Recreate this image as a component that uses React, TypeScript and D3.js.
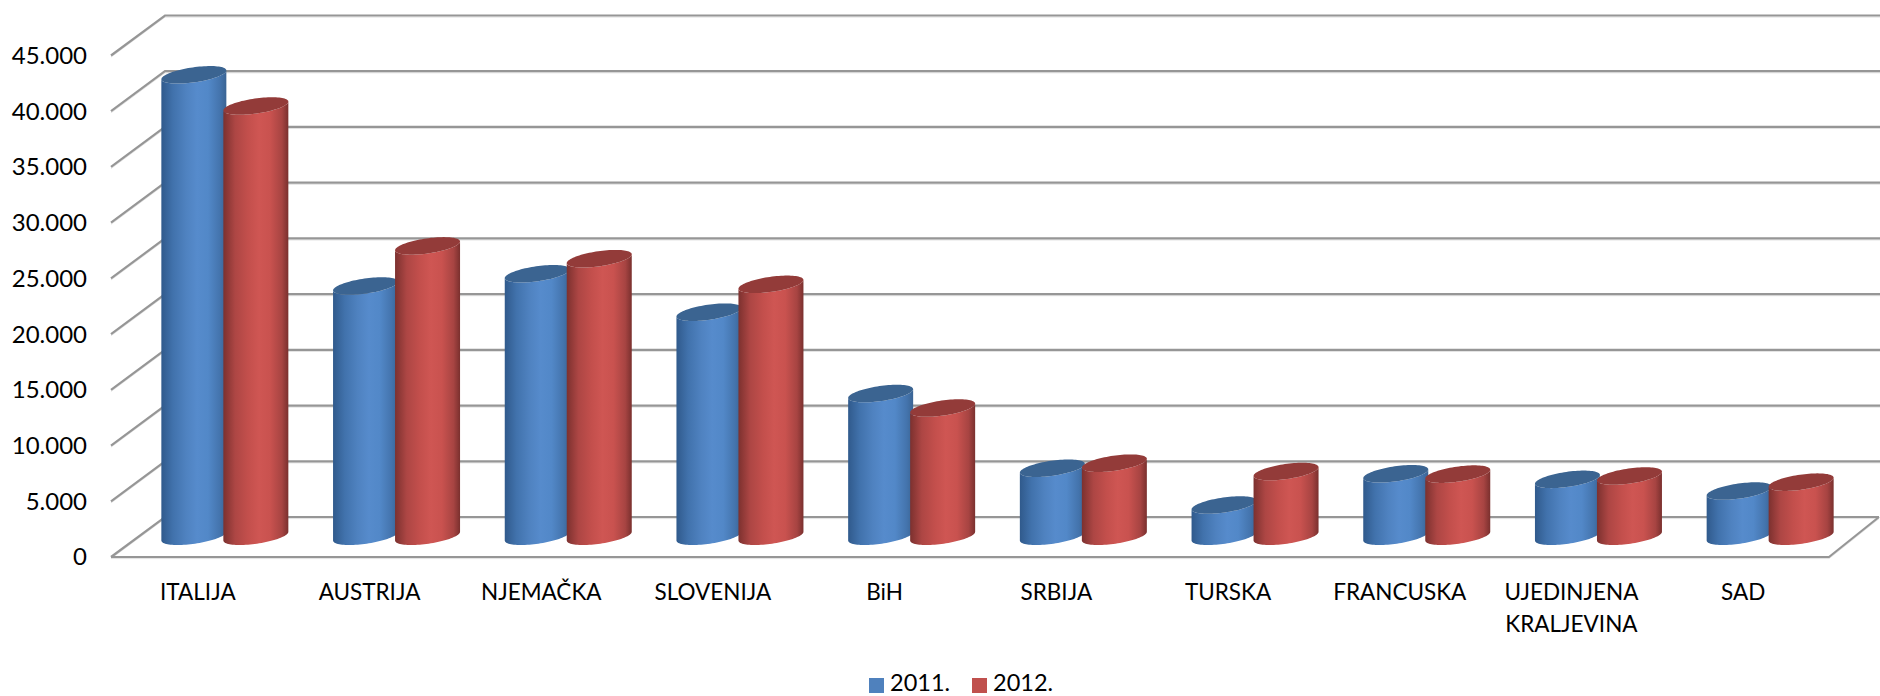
import React from "react";
import * as d3 from "d3";

const categories = ["ITALIJA","AUSTRIJA","NJEMAČKA","SLOVENIJA","BiH","SRBIJA","TURSKA","FRANCUSKA","UJEDINJENA\nKRALJEVINA","SAD"];
const series2011 = [41400,22450,23550,20100,12800,6100,2800,5600,5100,4050];
const series2012 = [38600,26050,24900,22600,11500,6550,5800,5570,5400,4850];
const ticks = [0,5000,10000,15000,20000,25000,30000,35000,40000,45000];
const tickLabels = ["0","5.000","10.000","15.000","20.000","25.000","30.000","35.000","40.000","45.000"];
const seriesNames = ["2011.","2012."];
const seriesKeys = ["a","b"];

const W = 1880, H = 696;
const FONT = "Lato, Carlito, sans-serif";
const LEFT = 111, RIGHT = 1829, FLOOR = 557, DX = 54, DY = 40;
const yFront = d3.scaleLinear().domain([0,45000]).range([FLOOR,55.5]);
const xFront = d3.scaleBand<string>().domain(categories).range([LEFT+1,LEFT+1718]);
const inner = d3.scaleBand<string>().domain(seriesKeys).range([0,124]);
const A = 32.5, B = 7.6, K = 4.4 / 32.5;

const ring = d3.range(0, 361, 4).map(d => d * Math.PI / 180);
const lineGen = d3.line<[number, number]>();
function ellipsePoint(cx:number, cy:number, t:number):[number,number]{
  return [cx + A*Math.cos(t), cy + B*Math.sin(t) - K*A*Math.cos(t)];
}
function cap(cx:number, top:number){
  return (lineGen(ring.map(t=>ellipsePoint(cx,top,t))) as string) + "Z";
}
function body(cx:number, top:number, bot:number){
  const lower = ring.filter(t=>t<=Math.PI+1e-6).map(t=>ellipsePoint(cx,bot,t));
  const upper = ring.filter(t=>t<=Math.PI+1e-6).map(t=>ellipsePoint(cx,top,t)).reverse();
  return (lineGen([...lower, ...upper]) as string) + "Z";
}

const stops = {
  a:["#305a8c","#4172ac","#4f82c0","#568bcc","#5288c8","#4474ad","#3a6494"],
  b:["#7c312f","#ad4644","#c34f4c","#cf5653","#c9524f","#a74442","#7a302e"],
};
const capFill: Record<string,string> = {a:"#3b6491",b:"#933b39"};
const legendFill: Record<string,string> = {a:"#4f81bd",b:"#c0504d"};
const offs = [0,0.18,0.38,0.55,0.72,0.9,1];

export default function App(){
  const band = xFront.bandwidth();
  const rows = [series2011, series2012];
  return (
    <svg width={W} height={H} viewBox={`0 0 ${W} ${H}`} style={{position:"absolute",left:0,top:0,background:"#fff"}} fontFamily={FONT}>
      <defs>
        {seriesKeys.map(k=>(
          <linearGradient key={k} id={"g"+k} x1="0" x2="1" y1="0" y2="0">
            {stops[k as "a"|"b"].map((c,i)=><stop key={i} offset={offs[i]} stopColor={c}/>)}
          </linearGradient>
        ))}
      </defs>
      {ticks.map((t,i)=>{
        const y=yFront(t);
        return <g key={t}>
          <path d={`M${LEFT},${y}L${LEFT+DX},${y-DY}H${t===0?RIGHT+50:W}`} fill="none" stroke="#e2e2e2" strokeWidth={1} transform="translate(0,1.6)"/>
          <path d={`M${LEFT},${y}L${LEFT+DX},${y-DY}H${t===0?RIGHT+50:W}`} fill="none" stroke="#969696" strokeWidth={2.2}/>
          <text x={87} y={y} dy="0.35em" textAnchor="end" fontSize={24} fill="#000">{tickLabels[i]}</text>
        </g>;
      })}
      <path d={`M${LEFT},${FLOOR}H${RIGHT}L${RIGHT+50},${FLOOR-DY}`} fill="none" stroke="#e2e2e2" strokeWidth={1} transform="translate(0,1.6)"/>
      <path d={`M${LEFT},${FLOOR}H${RIGHT}L${RIGHT+50},${FLOOR-DY}`} fill="none" stroke="#969696" strokeWidth={2.2}/>
      {categories.map((c,i)=>{
        const x0=(xFront(c) as number)+band/2+DX/2;
        const baseY=FLOOR-DY/2-0.8;
        return <g key={c}>
          {seriesKeys.map((k,s)=>{
            const cx=x0-62+(inner(k) as number)+inner.bandwidth()/2;
            const top=baseY-(FLOOR-yFront(rows[s][i]));
            return <g key={k}>
              <path d={body(cx,top,baseY)} fill={`url(#g${k})`}/>
              <path d={cap(cx,top)} fill={capFill[k]}/>
            </g>;
          })}
          <text textAnchor="middle" fontSize={22.5} fill="#000">
            {c.split("\n").map((l,j)=><tspan key={j} x={(xFront(c) as number)+band/2} y={600+j*32}>{l}</tspan>)}
          </text>
        </g>;
      })}
      {seriesKeys.map((k,s)=>{
        const lx=[869,972][s];
        return <g key={k}>
          <rect x={lx} y={678} width={15} height={15} fill={legendFill[k]}/>
          <text x={lx+21} y={691} fontSize={23.5} fill="#000">{seriesNames[s]}</text>
        </g>;
      })}
    </svg>
  );
}
